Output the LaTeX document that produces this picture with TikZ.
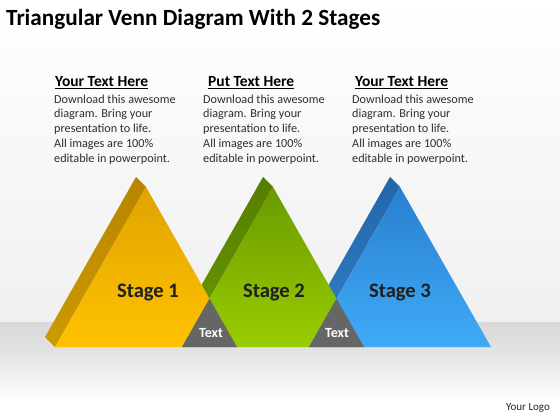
\documentclass[tikz,border=0pt]{standalone}
\usepackage{fontspec}
\setmainfont{Carlito}
\usetikzlibrary{positioning}
\definecolor{ytop}{HTML}{E0A300}
\definecolor{ybot}{HTML}{FFC200}
\definecolor{ystop}{HTML}{B88400}
\definecolor{ysbot}{HTML}{CC9A00}
\definecolor{gtop}{HTML}{6A9A00}
\definecolor{gbot}{HTML}{9ACD00}
\definecolor{gstop}{HTML}{557E00}
\definecolor{gsbot}{HTML}{6A9A00}
\definecolor{btop}{HTML}{2880D0}
\definecolor{bbot}{HTML}{40AAF6}
\definecolor{bstop}{HTML}{2366A8}
\definecolor{bsbot}{HTML}{3080C8}

\begin{document}
\begin{tikzpicture}
		[x=1pt, y=-1pt, inner sep=0pt,
		title/.style	= {anchor=base west, font=\fontsize{23.2}{27}\selectfont\bfseries},
		heading/.style	= {anchor=base west, font=\fontsize{15.5}{18}\selectfont\bfseries},
		blurb/.style	= {anchor=north west, align=left, text=black!82, font=\fontsize{12.2}{14.8}\selectfont},
		stage/.style	= {font=\fontsize{20.6}{24}\selectfont\bfseries, text=black!88},
		overlap/.style	= {font=\fontsize{14}{16}\selectfont\bfseries, text=white},
		logo/.style		= {font=\fontsize{11}{13}\selectfont, text=black!85},
		yfront/.style	= {top color=ytop, bottom color=ybot},
		yside/.style	= {top color=ystop, bottom color=ysbot},
		gfront/.style	= {top color=gtop, bottom color=gbot},
		gside/.style	= {top color=gstop, bottom color=gsbot},
		bfront/.style	= {top color=btop, bottom color=bbot},
		bside/.style	= {top color=bstop, bottom color=bsbot},
		cross/.style	= {fill=black!60}]
		
		% background and floor
		\useasboundingbox (0,0) rectangle (560,420);
		\shade [top color=white, bottom color=black!6] (0,0) rectangle (560,322);
		\shade [top color=black!15, bottom color=black!11] (0,322) rectangle (560,352);
		\shade [top color=black!11, bottom color=white] (0,352) rectangle (560,400);
		\fill [white] (0,400) rectangle (560,420);
		
		\node at (6,26)		[title]		(ttl)	{Triangular Venn Diagram With 2 Stages};
		
		\node at (55,87)	[heading]	(h1)	{\underline{Your Text Here}};
		\node at (208,87)	[heading]	(h2)	{\underline{Put Text Here}};
		\node at (355,87)	[heading]	(h3)	{\underline{Your Text Here}};
		
		\node at (54,94.5)	[blurb]		(b1)	{Download this awesome\\diagram. Bring your\\presentation to life.\\All images are 100\%\\editable in powerpoint.};
		\node at (203,94.5)	[blurb]		(b2)	{Download this awesome\\diagram. Bring your\\presentation to life.\\All images are 100\%\\editable in powerpoint.};
		\node at (352,94.5)	[blurb]		(b3)	{Download this awesome\\diagram. Bring your\\presentation to life.\\All images are 100\%\\editable in powerpoint.};
		
		% corners of the three prisms
		\coordinate (ya) at (146,187);	\coordinate (yl) at (55,347);	\coordinate (yr) at (237,347);
		\coordinate (ga) at (273,187);	\coordinate (gl) at (182,347);	\coordinate (gr) at (364,347);
		\coordinate (ba) at (400,187);	\coordinate (bl) at (309,347);	\coordinate (br) at (491,347);
		\coordinate (yA) at (136,177);	\coordinate (yL) at (45,337);
		\coordinate (gA) at (263,177);	\coordinate (gL) at (172,337);
		\coordinate (bA) at (390,177);	\coordinate (bL) at (299,337);
		
		\shade [yside] (ya) -- (yA) -- (yL) -- (yl) -- cycle;
		\shade [gside] (ga) -- (gA) -- (gL) -- (gl) -- cycle;
		\shade [bside] (ba) -- (bA) -- (bL) -- (bl) -- cycle;
		
		\shade [yfront] (ya) -- (yl) -- (yr) -- cycle;
		\shade [gfront] (ga) -- (gl) -- (gr) -- cycle;
		\shade [bfront] (ba) -- (bl) -- (br) -- cycle;
		
		\fill [cross] (209.5,298.7) -- (gl) -- (yr) -- cycle;
		\fill [cross] (336.5,298.7) -- (bl) -- (gr) -- cycle;
		
		\node at (148,292)	[stage]		(s1)	{Stage 1};
		\node at (274,292)	[stage]		(s2)	{Stage 2};
		\node at (400,292)	[stage]		(s3)	{Stage 3};
		
		\node at (211,333)	[overlap]	(x1)	{Text};
		\node at (337,333)	[overlap]	(x2)	{Text};
		
		\node at (528,408)	[logo]		(lg)	{Your Logo};
		
		\end{tikzpicture}
\end{document}
